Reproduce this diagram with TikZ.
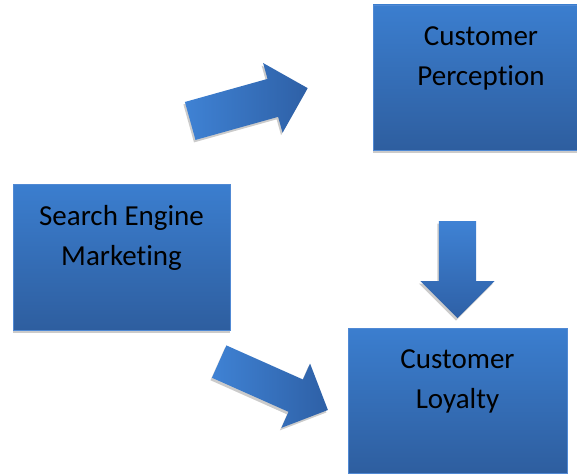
\documentclass[tikz,border=0pt]{standalone}
\usepackage{fontspec}
\setmainfont[Ligatures={NoCommon,NoRare,NoContextual}]{Carlito}
\usetikzlibrary{shapes.arrows,shadows}
\definecolor{btop}{HTML}{3B7ECF}
\definecolor{bbot}{HTML}{2E5E9F}
\definecolor{bline}{HTML}{5089D4}
\definecolor{atail}{HTML}{3F82D4}
\definecolor{ahead}{HTML}{2E60A6}
\definecolor{shad}{HTML}{A8A8A8}
\newcommand\twolines[2]{\begin{minipage}[c][140pt][t]{200pt}\centering\fontsize{29}{40}\selectfont\rule{0pt}{38pt}#1\\#2\end{minipage}}
\begin{document}
\begin{tikzpicture}[x=1pt,y=1pt,
  box/.style={rectangle, inner sep=0pt, top color=btop, bottom color=bbot,
    draw=bline, line width=0.6pt,
    drop shadow={shadow xshift=0pt, shadow yshift=-3pt, fill=shad, opacity=0.6}},
  blockarrow/.style={single arrow, inner xsep=0pt, draw=none, anchor=tail,
    single arrow head indent=0pt, single arrow tip angle=90,
    left color=atail, right color=ahead,
    drop shadow={shadow xshift=-1.5pt, shadow yshift=-2.5pt, fill=shad, opacity=0.6}}]
\useasboundingbox (0,0) rectangle (577,-473);
\clip (0,0) rectangle (577,-473);
\node[box, minimum width=217pt, minimum height=146pt] (sem) at (121.5,-257) {\twolines{Search Engine}{Marketing}};
\node[box, minimum width=216pt, minimum height=145pt] (cp) at (481,-77.5) {\twolines{Customer}{Perception}};
\node[box, minimum width=219pt, minimum height=145pt] (cl) at (457.5,-400.5) {\twolines{Customer}{Loyalty}};
\node[blockarrow, minimum height=122pt, inner ysep=19.5pt, single arrow head extend=16.5pt, rotate=15.6] (a1) at (190,-121) {};
\node[blockarrow, minimum height=119pt, inner ysep=17.5pt, single arrow head extend=17.5pt, rotate=-24] (a2) at (219,-361.5) {};
\node[blockarrow, top color=atail, bottom color=ahead, minimum height=97pt, inner ysep=18.5pt, single arrow head extend=18.5pt, rotate=-90] (a3) at (457.5,-221) {};
\end{tikzpicture}
\end{document}
